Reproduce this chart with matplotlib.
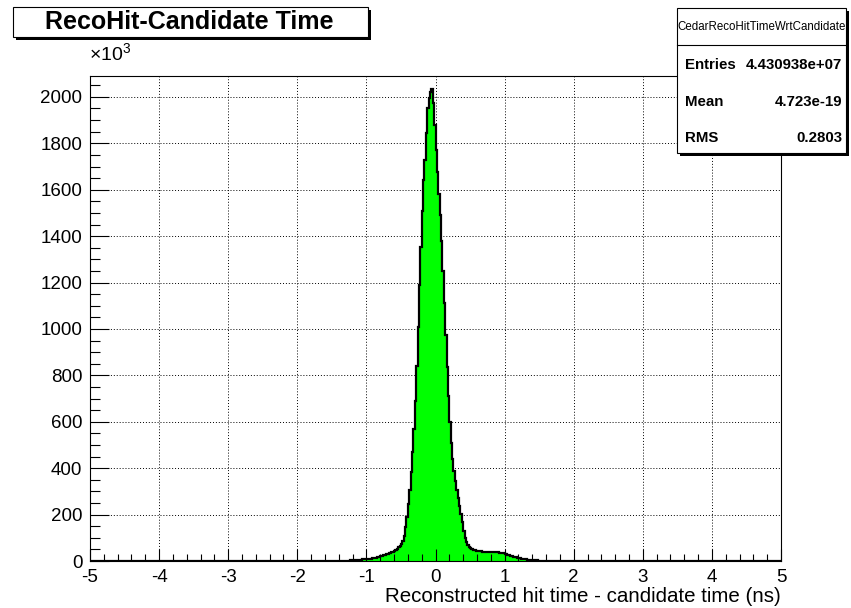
import numpy as np
import matplotlib
matplotlib.use('Agg')
import matplotlib.pyplot as plt
from matplotlib.patches import Rectangle
from matplotlib.ticker import MultipleLocator

plt.rcParams['font.family'] = ['Liberation Sans', 'DejaVu Sans']
plt.rcParams['mathtext.fontset'] = 'custom'
plt.rcParams['mathtext.rm'] = 'Liberation Sans'
plt.rcParams['mathtext.default'] = 'regular'
plt.rcParams['axes.unicode_minus'] = False

# histogram binning: 500 bins on [-5, 5]
n_bins = 500
x_lo, x_hi = -5.0, 5.0
first_bin = 180  # bin starting at -1.40

# bin contents in units of 10^3 entries, bins from -1.40 to 1.80
counts_k = [
    0.65, 0.8, 0.95, 1.1, 1.3, 1.5, 1.8, 2.1, 2.4, 2.8,
    3.2, 3.6, 4.0, 4.5, 5.0, 5.5, 6.0, 6.6, 7.2, 7.9,
    8.5, 9.2, 9.9, 10.7, 11.5, 12.4, 13.4, 14.6, 15.8, 17.2,
    19.5, 22, 24.5, 26.8, 29, 31, 33.3, 35.5, 38, 40.5,
    43.5, 47.5, 53, 59, 66, 75, 87, 108, 145, 190,
    245, 305, 385, 470, 570, 690, 840, 1010, 1190, 1355,
    1510, 1640, 1730, 1845, 1950, 1995, 2020, 2032, 1975, 1880,
    1770, 1675, 1580, 1490, 1380, 1250, 1110, 975, 835, 710,
    600, 510, 440, 387, 345, 305, 270, 238, 204, 168,
    130, 100, 81, 69, 62, 57, 53, 49, 47, 45,
    43.5, 42.5, 41.5, 41, 40.5, 40.3, 40.2, 40, 40, 40,
    40, 39.8, 39.5, 38.8, 38, 37.2, 36.3, 35.5, 34, 32.7,
    31.2, 29.3, 27.5, 25, 22.7, 20.5, 18.7, 17, 15.5, 14.1,
    12.9, 11.7, 10.5, 9.3, 8.3, 7.3, 6.4, 5.5, 4.8, 4.1,
    3.6, 3.1, 2.7, 2.4, 2.1, 1.8, 1.55, 1.3, 1.15, 1.0,
    0.85, 0.72, 0.6, 0.5, 0.4, 0.33, 0.26, 0.2, 0.15, 0.1,
]

x_ticks = [-5, -4, -3, -2, -1, 0, 1, 2, 3, 4, 5]
y_ticks = [0, 200, 400, 600, 800, 1000, 1200, 1400, 1600, 1800, 2000]

hist_title = 'RecoHit-Candidate Time'
hist_name = 'CedarRecoHitTimeWrtCandidate'
stat_names = ['Entries', 'Mean', 'RMS']
stat_values = ['4.430938e+07', '4.723e-19', '0.2803']
x_title = 'Reconstructed hit time - candidate time (ns)'

counts = np.zeros(n_bins)
counts[first_bin:first_bin + len(counts_k)] = counts_k
edges = np.linspace(x_lo, x_hi, n_bins + 1)

W, H = 851, 608
fig = plt.figure(figsize=(W / 100, H / 100), dpi=100)
fig.patch.set_facecolor('white')


def fx(px):
    return px / W


def fy(py):
    return 1 - py / H


ax = fig.add_axes([fx(90), fy(561), fx(781) - fx(90), fy(76) - fy(561)])

ax.stairs(counts, edges, fill=True, color='#00ff00', zorder=1)
ax.stairs(counts, edges, color='black', lw=1.6, zorder=1.2)

ax.set_xlim(x_lo, x_hi)
ax.set_ylim(0, 2090)
ax.set_xticks(x_ticks)
ax.set_yticks(y_ticks)
ax.xaxis.set_minor_locator(MultipleLocator(0.2))
ax.yaxis.set_minor_locator(MultipleLocator(50))

# dotted grid under the filled histogram
for v in x_ticks[1:-1]:
    ax.axvline(v, color='black', lw=0.7, ls=(0, (1, 2)), zorder=0.5)
for v in y_ticks[1:]:
    ax.axhline(v, color='black', lw=0.7, ls=(0, (1, 2)), zorder=0.5)

ax.tick_params(axis='both', which='both', direction='in', width=0.8,
               labelsize=13.5, top=False, right=False)
ax.tick_params(axis='x', which='major', length=9, pad=6)
ax.tick_params(axis='x', which='minor', length=4.8)
ax.tick_params(axis='y', which='major', length=14, pad=5.5)
ax.tick_params(axis='y', which='minor', length=7)
for s in ax.spines.values():
    s.set_linewidth(0.8)

fig.text(fx(89), fy(64), '×10$^{3}$', fontsize=14, ha='left', va='bottom')
fig.text(fx(781), fy(596), x_title, fontsize=14.8, ha='right', va='center')


def shadow_box(x0, y0, x1, y1, off=3):
    shade = Rectangle((fx(x0 + off), fy(y1 + off)), fx(x1) - fx(x0),
                      fy(y0) - fy(y1), transform=fig.transFigure,
                      facecolor='black', edgecolor='none', zorder=5)
    box = Rectangle((fx(x0), fy(y1)), fx(x1) - fx(x0), fy(y0) - fy(y1),
                    transform=fig.transFigure, facecolor='white',
                    edgecolor='black', lw=0.8, zorder=6)
    fig.patches.extend([shade, box])


# title box
shadow_box(13, 7, 368, 37)
fig.text(fx(189), fy(22), hist_title, fontsize=18, fontweight='bold',
         ha='center', va='center', zorder=7)

# statistics box
shadow_box(677, 8, 846, 153)
fig.lines.append(plt.Line2D([fx(677), fx(846)], [fy(45), fy(45)],
                            transform=fig.transFigure, color='black',
                            lw=0.8, zorder=7))
fig.text(fx(761.5), fy(27), hist_name, fontsize=8.3, ha='center',
         va='center', zorder=7)
for i, (name, val) in enumerate(zip(stat_names, stat_values)):
    yy = 65 + 36.5 * i
    fig.text(fx(685), fy(yy), name, fontsize=10.8, fontweight='bold',
             ha='left', va='center', zorder=7)
    fig.text(fx(842), fy(yy), val, fontsize=10.8, fontweight='bold',
             ha='right', va='center', zorder=7)

fig.savefig('out.png', dpi=100)
